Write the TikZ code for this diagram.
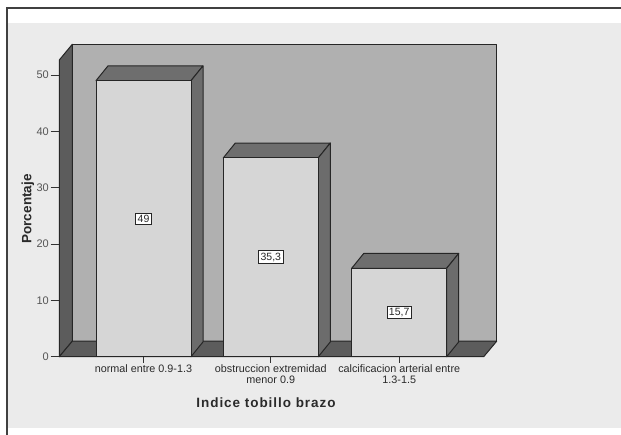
\documentclass[tikz,border=0pt]{standalone}
\usepackage{fontspec}
\setmainfont{Liberation Sans}
\definecolor{bgc}{HTML}{EBEBEB}
\definecolor{wallc}{HTML}{B0B0B0}
\definecolor{sidec}{HTML}{5C5C5C}
\definecolor{topc}{HTML}{6E6E6E}
\definecolor{frontc}{HTML}{D6D6D6}
\definecolor{framec}{HTML}{404040}
\definecolor{txtc}{HTML}{2A2A2A}
\begin{document}
\begin{tikzpicture}[x=1pt,y=-1pt,
  edge/.style={draw=black!85,line width=1pt,line join=round},
  valbox/.style={draw=black!85,fill=white,line width=0.9pt,inner sep=2pt,font=\fontsize{10.5}{11}\selectfont,text=txtc},
  ticklab/.style={anchor=east,font=\fontsize{11}{12}\selectfont,text=txtc!80,inner sep=1pt},
  catlab/.style={anchor=north,align=center,font=\fontsize{10.8}{10.5}\selectfont,text=txtc,inner sep=0pt}]
\useasboundingbox (0,0) rectangle (621,435);
\fill[white] (0,0) rectangle (621,435);
\fill[bgc] (7,23) rectangle (621,428);
\draw[framec,line width=2pt] (7,436) -- (7,8.5) -- (621,8.5);
% walls
\fill[wallc,edge] (72.3,44.3) rectangle (496.7,341.2);
\filldraw[fill=sidec,edge] (59.3,60) -- (72.3,44.3) -- (72.3,341.2) -- (59.3,356.7) -- cycle;
\filldraw[fill=sidec,edge] (59.3,356.7) -- (72.3,341.2) -- (496.7,341.2) -- (483.7,356.7) -- cycle;
% y ticks
\foreach \v in {0,10,20,30,40,50}{
  \pgfmathsetmacro{\yy}{356.7-\v*5.633}
  \draw[black!80,line width=0.9pt] (50.5,\yy) -- (59.3,\yy);
  \node[ticklab] (t\v) at (50,\yy) {\v};
}
% bars
\foreach \i/\xa/\val/\lab in {1/96/49/49, 2/223.3/35.3/{35,3}, 3/351.7/15.7/{15,7}}{
  \pgfmathsetmacro{\xb}{\xa+95}
  \pgfmathsetmacro{\yt}{356.7-\val*5.633}
  \pgfmathsetmacro{\ym}{356.7-\val*5.633/2}
  \pgfmathsetmacro{\xm}{\xa+47.5}
  \filldraw[fill=topc,edge] (\xa,\yt) -- (\xa+12,\yt-14.8) -- (\xb+12,\yt-14.8) -- (\xb,\yt) -- cycle;
  \filldraw[fill=sidec!90!white,edge] (\xb,\yt) -- (\xb+12,\yt-14.8) -- (\xb+12,356.7-14.8) -- (\xb,356.7) -- cycle;
  \filldraw[fill=frontc,edge] (\xa,\yt) rectangle (\xb,356.7);
  \node[valbox] (v\i) at (\xm,\ym) {\lab};
  \draw[black!80,line width=0.9pt] (\xm,356.7) -- (\xm,363);
  \coordinate (c\i) at (\xm,364.5);
}
\draw[black!85,line width=1.1pt] (59.3,356.7) -- (483.7,356.7);
\node[catlab] (l1) at (c1) {normal entre 0.9-1.3};
\node[catlab] (l2) at (c2) {obstruccion extremidad\\menor 0.9};
\node[catlab] (l3) at (c3) {calcificacion arterial entre\\1.3-1.5};
\node[font=\bfseries\fontsize{13.5}{14}\selectfont,text=txtc] (xt) at (266,403) {\addfontfeature{LetterSpace=7}Indice tobillo brazo};
\node[font=\bfseries\fontsize{13.5}{14}\selectfont,text=txtc,rotate=90] (yt) at (28,209) {Porcentaje};
\end{tikzpicture}
\end{document}
